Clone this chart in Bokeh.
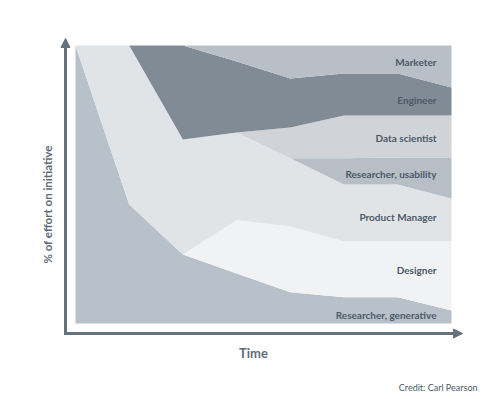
import math
from bokeh.plotting import figure
from bokeh.models import ColumnDataSource, Label, Arrow, NormalHead
from bokeh.embed import file_html
from bokeh.resources import INLINE

# ---- data (percent of effort, stacked bottom -> top) ----
time_steps = [0, 1, 2, 3, 4, 5, 6, 7]
researcher_generative = [100, 42.8, 24.8, 18.0, 11.2, 9.4, 9.4, 4.7]
designer = [0, 0, 0, 19.1, 23.7, 20.1, 20.1, 24.8]
product_manager = [0, 57.2, 41.4, 31.6, 24.5, 20.5, 20.5, 15.5]
researcher_usability = [0, 0, 0, 0, 0, 9.4, 9.7, 14.7]
data_scientist = [0, 0, 0, 0, 11.1, 15.4, 15.1, 15.1]
engineer = [0, 0, 33.8, 25.5, 17.6, 15.1, 15.1, 10.1]
marketer = [0, 0, 0, 5.8, 11.9, 10.1, 10.1, 15.1]

series_names = ["Researcher, generative", "Designer", "Product Manager",
                "Researcher, usability", "Data scientist", "Engineer", "Marketer"]
series_keys = ["gen", "des", "pm", "usab", "ds", "eng", "mkt"]
series_values = [researcher_generative, designer, product_manager,
                 researcher_usability, data_scientist, engineer, marketer]
colors = ["#b8c1ca", "#f1f2f4", "#e1e4e7", "#b7bec6", "#d0d4d9", "#808b96", "#b8bfc7"]

x_title = "Time"
y_title = "% of effort on initiative"
credit = "Credit: Carl Pearson"

# ---- geometry (page pixels -> data) ----
W, H = 500, 399
OFF = 0
X0_PAGE, DX = 75.0, 376.0 / 7
Y0_PAGE, DY = 323.0, 278.0 / 100


def px(page_x):
    return (page_x - X0_PAGE) / DX


def py(page_y):
    return (Y0_PAGE - page_y) / DY


p = figure(width=W, height=H, output_backend="svg", toolbar_location=None,
           x_range=(px(OFF), px(OFF + W)), y_range=(py(OFF + H), py(OFF)),
           min_border=0, min_border_left=0, min_border_right=0,
           min_border_top=0, min_border_bottom=0)
p.axis.visible = False
p.grid.visible = False
p.outline_line_color = None
p.background_fill_color = "white"
p.border_fill_color = "white"

data = {"x": time_steps}
for k, v in zip(series_keys, series_values):
    data[k] = v
src = ColumnDataSource(data)
p.varea_stack(stackers=series_keys, x="x", color=colors, source=src)

axis_color = "#66727e"
text_color = "#4b5967"
font = "Lato"

# axes with arrow heads
p.add_layout(Arrow(end=NormalHead(size=9, fill_color=axis_color, line_color=axis_color),
                   x_start=px(65), y_start=py(334.5), x_end=px(65), y_end=py(38),
                   line_color=axis_color, line_width=3))
p.add_layout(Arrow(end=NormalHead(size=9, fill_color=axis_color, line_color=axis_color),
                   x_start=px(63.5), y_start=py(333), x_end=px(462), y_end=py(333),
                   line_color=axis_color, line_width=3))

# series labels
label_y = {"Marketer": 61, "Engineer": 99, "Data scientist": 137,
           "Researcher, usability": 173, "Product Manager": 216,
           "Designer": 269, "Researcher, generative": 314}
for name in series_names:
    p.add_layout(Label(x=px(436), y=py(label_y[name]), text=name,
                       text_align="right", text_baseline="middle",
                       text_font=font, text_font_style="bold",
                       text_font_size="10px", text_color=text_color))

p.add_layout(Label(x=px(47), y=py(204), text=y_title, angle=math.pi / 2,
                   text_align="center", text_baseline="middle",
                   text_font=font, text_font_style="bold",
                   text_font_size="11.5px", text_color="#5d6b78"))
p.add_layout(Label(x=px(253), y=py(352), text=x_title,
                   text_align="center", text_baseline="middle",
                   text_font=font, text_font_style="bold",
                   text_font_size="13px", text_color="#5d6b78"))
p.add_layout(Label(x=px(477), y=py(387), text=credit,
                   text_align="right", text_baseline="middle",
                   text_font=font, text_font_size="9px", text_color=text_color))

open("out.html", "w").write(file_html(p, INLINE))
